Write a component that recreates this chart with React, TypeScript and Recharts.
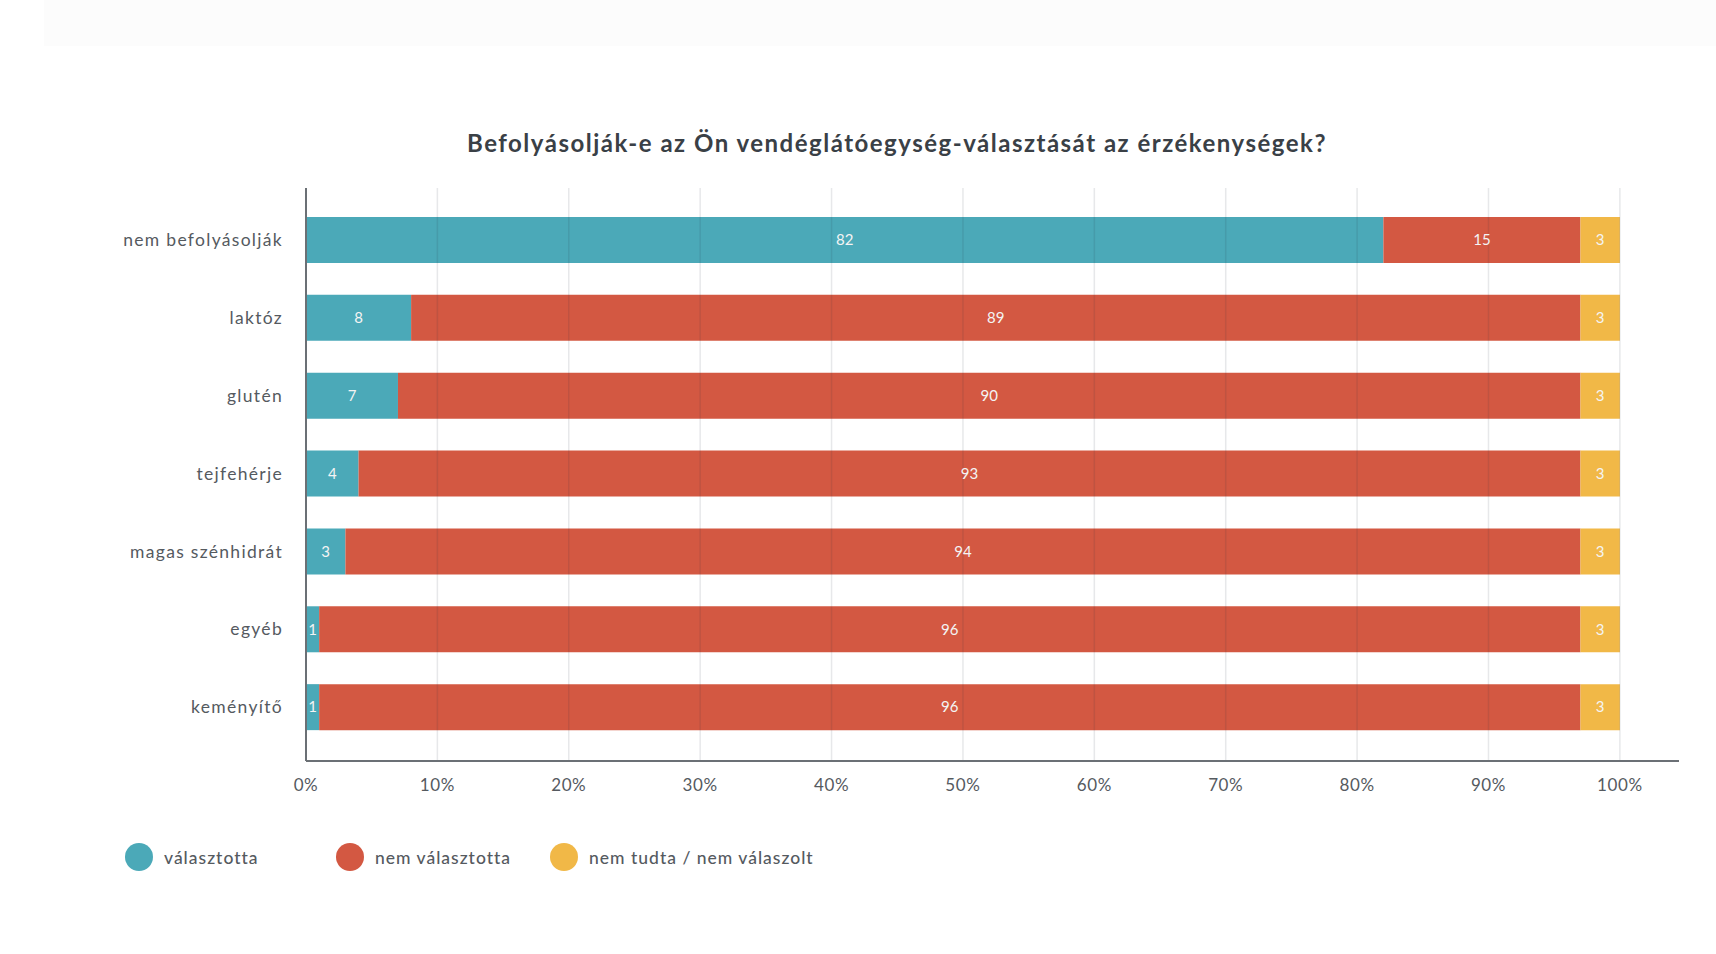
import { BarChart, Bar, XAxis, YAxis, LabelList, ReferenceLine } from 'recharts'

const categories = ['nem befolyásolják', 'laktóz', 'glutén', 'tejfehérje', 'magas szénhidrát', 'egyéb', 'keményítő']
const chose = [82, 8, 7, 4, 3, 1, 1]
const notChose = [15, 89, 90, 93, 94, 96, 96]
const noAnswer = [3, 3, 3, 3, 3, 3, 3]
const xTicks = [0, 10, 20, 30, 40, 50, 60, 70, 80, 90, 100]

const SERIES = [
  { key: 'chose', name: 'választotta', color: '#4ba9b8', left: 125 },
  { key: 'notChose', name: 'nem választotta', color: '#d35842', left: 336 },
  { key: 'noAnswer', name: 'nem tudta / nem válaszolt', color: '#f1b847', left: 550 },
]

const data = categories.map((c, i) => ({
  name: c,
  chose: chose[i],
  notChose: notChose[i],
  noAnswer: noAnswer[i],
}))

const FONT = 'Lato, "Open Sans", sans-serif'
const AXIS_COLOR = '#6b7075'
const TEXT_COLOR = '#555a5f'

export default function App() {
  return (
    <div style={{ position: 'absolute', left: 0, top: 0, width: 1716, height: 954, background: '#fff', fontFamily: FONT }}>
      <div style={{ position: 'absolute', left: 44, top: 0, width: 1672, height: 46, background: '#fcfcfc' }} />

      <div style={{ position: 'absolute', left: 0, width: 1794, top: 128, textAlign: 'center', fontSize: 24, fontWeight: 700, color: '#3a4046', letterSpacing: 1.5 }}>
        Befolyásolják-e az Ön vendéglátóegység-választását az érzékenységek?
      </div>

      <div style={{ position: 'absolute', left: 0, top: 0 }}>
        <BarChart
          width={1716}
          height={954}
          data={data}
          layout="vertical"
          margin={{ top: 188, right: 37, bottom: 153, left: 0 }}
        >
          <XAxis
            type="number"
            domain={[0, 104.5]}
            ticks={xTicks}
            tickFormatter={v => `${v}%`}
            height={40}
            tickSize={0}
            tickMargin={18}
            axisLine={{ stroke: AXIS_COLOR, strokeWidth: 2 }}
            tick={{ fill: TEXT_COLOR, fontSize: 17, fontFamily: FONT, letterSpacing: 0.6 }}
          />
          <YAxis
            type="category"
            dataKey="name"
            width={306}
            tickSize={0}
            tickMargin={23}
            padding={{ top: 13, bottom: 15 }}
            axisLine={{ stroke: AXIS_COLOR, strokeWidth: 2 }}
            tick={{ fill: TEXT_COLOR, fontSize: 17.5, fontFamily: FONT, letterSpacing: 1.3 }}
          />
          {SERIES.map(s => (
            <Bar key={s.key} dataKey={s.key} name={s.name} stackId="a" fill={s.color} barSize={46} isAnimationActive={false}>
              <LabelList dataKey={s.key} position="center" fill="#f4f4f4" fontSize={15} fontFamily={FONT} />
            </Bar>
          ))}
          {xTicks.slice(1).map(t => (
            <ReferenceLine key={t} x={t} stroke="rgba(40,50,60,0.11)" strokeWidth={1.5} />
          ))}
        </BarChart>
      </div>

      {/* legend */}
      {SERIES.map(s => (
        <div key={s.key} style={{ position: 'absolute', left: s.left, top: 843, display: 'flex', alignItems: 'center', fontSize: 17.5, color: TEXT_COLOR, fontWeight: 500, letterSpacing: 1 }}>
          <span style={{ width: 28, height: 28, borderRadius: '50%', background: s.color, display: 'inline-block', marginRight: 11 }} />
          <span>{s.name}</span>
        </div>
      ))}
    </div>
  )
}
